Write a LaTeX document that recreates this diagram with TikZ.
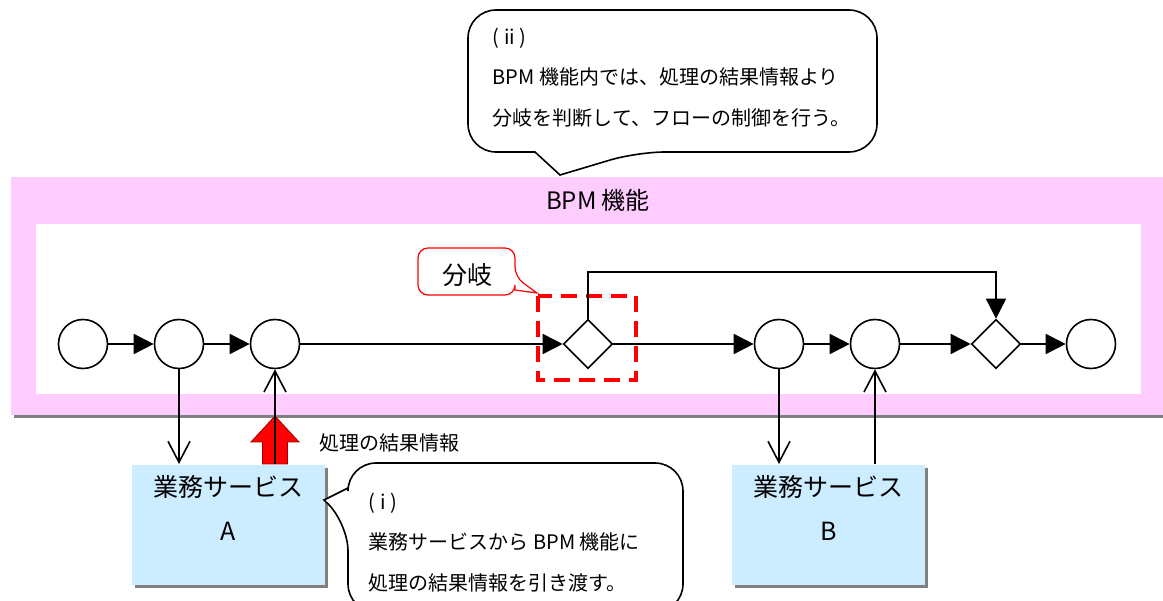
\documentclass[tikz,border=0pt]{standalone}
\usepackage{fontspec}
\setmainfont{Noto Sans CJK JP}
\usetikzlibrary{arrows.meta,shapes.geometric,shadows,positioning}
\definecolor{bpmpink}{RGB}{255,204,255}
\definecolor{svcblue}{RGB}{204,236,255}
\begin{document}
\begin{tikzpicture}[x=1pt,y=-1pt,line width=1.6pt,
	ev/.style={circle,draw,fill=white,minimum size=49pt,inner sep=0pt},
	gw/.style={diamond,draw,fill=white,minimum size=49pt,aspect=1,inner sep=0pt},
	flow/.style={-{Triangle[length=20pt,width=20pt]}},
	call/.style={-{Straight Barb[length=21pt,width=22pt]}},
	shade/.style={drop shadow={shadow xshift=3pt,shadow yshift=-3pt,fill=black!50,opacity=1}},
	svc/.style={fill=svcblue,minimum width=193pt,minimum height=120pt,inner sep=0pt,shade},
	bubble/.style={draw,fill=white,rounded corners=28pt},
	note/.style={font=\fontsize{20}{40.5}\selectfont,align=left,inner sep=0pt}]
	\useasboundingbox (0,0) rectangle (1163,601);
	% BPM band
	\node[fill=bpmpink,minimum width=1170pt,minimum height=238pt,inner sep=0pt,anchor=north west,shade] (bpm) at (10,176) {};
	\node[fill=white,minimum width=1105pt,minimum height=170pt,inner sep=0pt,anchor=north west] (pool) at (35,223) {};
	\node[font=\fontsize{24}{24}\selectfont] (bpmname) at (598,200) {BPM 機能};
	% flow
	\node[ev] (s) at (83,344) {};
	\node[ev] (a1) at (179,344) {};
	\node[ev] (a2) at (275,344) {};
	\node[gw] (g1) at (588,344) {};
	\node[ev] (b1) at (779,344) {};
	\node[ev] (b2) at (875,344) {};
	\node[gw] (g2) at (996,344) {};
	\node[ev] (e) at (1091,344) {};
	\draw[red,line width=4pt,dash pattern=on 16pt off 9pt] ([shift={(-50,-48)}]g1.center) rectangle ([shift={(48,36)}]g1.center);
	\draw[flow] (s) -- (a1);
	\draw[flow] (a1) -- (a2);
	\draw[flow] (a2) -- (g1);
	\draw[flow] (g1) -- (b1);
	\draw[flow] (b1) -- (b2);
	\draw[flow] (b2) -- (g2);
	\draw[flow] (g2) -- (e);
	\coordinate (jump) at (996,272);
	\draw[flow] (g1.north) |- (jump) -- (g2.north);
	% services
	\node[svc,anchor=north west] (svcA) at (131,464) {};
	\node[svc,anchor=north west] (svcB) at (731,464) {};
	\node[font=\fontsize{25}{25}\selectfont,anchor=base] (svcAname) at ([yshift=-33pt]svcA.north) {業務サービス};
	\node[font=\fontsize{25}{25}\selectfont,anchor=base] (svcAid) at ([yshift=-76pt]svcA.north) {A};
	\node[font=\fontsize{25}{25}\selectfont,anchor=base] (svcBname) at ([yshift=-33pt]svcB.north) {業務サービス};
	\node[font=\fontsize{25}{25}\selectfont,anchor=base] (svcBid) at ([yshift=-76pt]svcB.north) {B};
	\coordinate (upA) at (a2.south |- svcA.north);
	\draw[fill=red,draw=red!60!black,line width=.8pt] (upA) ++(-12.5,0) -- ++(0,-22) -- ++(-11.5,0) -- ++(24,-26) -- ++(24,26) -- ++(-11.5,0) -- ++(0,22) -- cycle;
	\draw[call] (a1.south) -- (a1.south |- svcA.north);
	\draw[call] (upA) -- (a2.south);
	\draw[call] (b1.south) -- (b1.south |- svcB.north);
	\draw[call] (b2.south |- svcB.north) -- (b2.south);
	\node[anchor=west,font=\fontsize{20}{20}\selectfont] (result) at (315,443) {処理の結果情報};
	% callouts
	\draw[bubble] (348,463) -- (683,463) -- (683,612) -- (348,612) -- (348,523) [sharp corners] -- (324,500) -- (348,488) [rounded corners=28pt] -- cycle;
	\node[note,anchor=north west] (noteA) at (368,492) {( i )\\業務サービスから BPM 機能に\\処理の結果情報を引き渡す。};
	\draw[bubble] (468,10) -- (877,10) -- (877,152) -- (637,152) [sharp corners] -- (560,175) -- (535,152) [rounded corners=28pt] -- (468,152) -- cycle;
	\node[note,anchor=north west] (noteB) at (492,27) {( ii )\\BPM 機能内では、処理の結果情報より\\分岐を判断して、フローの制御を行う。};
	\draw[red,line width=1.2pt,fill=white,rounded corners=10pt] (418,248) -- (515,248) -- (515,277) [sharp corners] -- (537,293) -- (515,290) [rounded corners=10pt] -- (515,295) -- (418,295) -- cycle;
	\node[font=\fontsize{25}{25}\selectfont] (branch) at (467,275) {分岐};
\end{tikzpicture}
\end{document}
